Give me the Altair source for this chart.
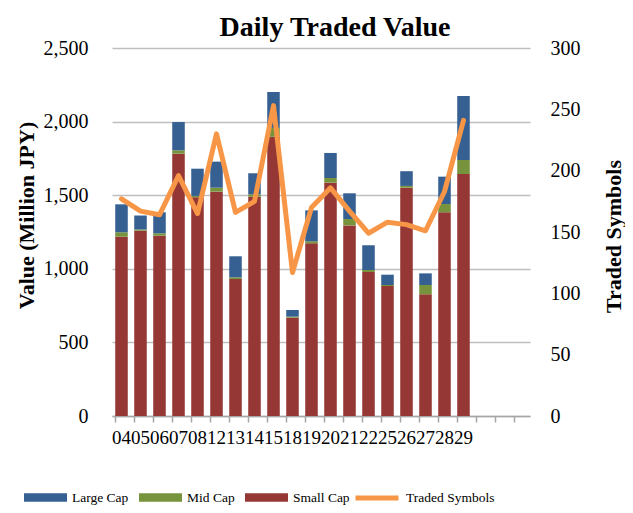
import altair as alt
import pandas as pd

# ---- data ----
dates = ["04", "05", "06", "07", "08", "12", "13", "14", "15", "18",
         "19", "20", "21", "22", "25", "26", "27", "28", "29"]
blank_slots = [" ", "  ", "   "]
small_cap = [1218, 1259, 1225, 1782, 1486, 1524, 930, 1490, 1897, 668,
             1173, 1585, 1295, 978, 883, 1551, 827, 1384, 1644]
mid_cap = [30, 8, 16, 23, 9, 27, 12, 16, 60, 7,
           14, 32, 43, 14, 7, 12, 63, 56, 95]
large_cap = [190, 95, 143, 192, 185, 177, 143, 143, 244, 45,
             210, 170, 175, 168, 70, 100, 79, 186, 435]
traded_symbols = [177, 167, 164, 196, 165, 230, 166, 175, 253, 117,
                  170, 186, 167, 149, 158, 156, 151, 183, 241]

segments = ["Large Cap", "Mid Cap", "Small Cap"]
seg_colors = ["#376092", "#77933C", "#953735"]
line_color = "#F79646"
left_ticks = [0, 500, 1000, 1500, 2000, 2500]
right_ticks = [0, 50, 100, 150, 200, 250, 300]

rows = []
for i, d in enumerate(dates):
    for seg, vals, o in (("Small Cap", small_cap, 0),
                         ("Mid Cap", mid_cap, 1),
                         ("Large Cap", large_cap, 2)):
        rows.append({"date": d, "segment": seg, "value": vals[i], "stack": o})
bars_df = pd.DataFrame(rows)
line_df = pd.DataFrame({"date": dates, "symbols": traded_symbols,
                        "series": ["Traded Symbols"] * len(dates)})

FONT = "Liberation Serif"
GRID = "#BFBFBF"
x_domain = dates + blank_slots
x_scale = alt.Scale(domain=x_domain, paddingInner=0.34, paddingOuter=0.17)

bars = alt.Chart(bars_df).mark_bar().encode(
    x=alt.X("date:N", scale=x_scale, sort=None,
            axis=alt.Axis(title=None, orient="bottom", labelAngle=0, labelFont=FONT,
                          labelFontSize=19, labelColor="black", labelPadding=12,
                          labelOverlap=False, ticks=False, domain=True,
                          domainColor="#A6A6A6", domainWidth=1.5, grid=False)),
    y=alt.Y("value:Q", stack="zero", scale=alt.Scale(domain=[0, 2500], nice=False),
            axis=alt.Axis(title="Value (Million JPY)", values=left_ticks, format=",d",
                          labelFont=FONT, labelFontSize=20, labelColor="black",
                          labelPadding=24, grid=True, gridColor=GRID, gridWidth=1.5,
                          domain=False, ticks=False,
                          titleFont=FONT, titleFontSize=22, titleFontWeight="bold",
                          titleColor="black", titleAngle=270, titleX=-79, titleY=167,
                          titleBaseline="alphabetic", titleAlign="center")),
    color=alt.Color("segment:N", scale=alt.Scale(domain=segments, range=seg_colors),
                    legend=alt.Legend(title=None, orient="none", direction="horizontal",
                                      legendX=-88, legendY=428,
                                      symbolType="M-1,-0.2H1V0.2H-1Z", symbolSize=1849,
                                      symbolStrokeWidth=0, symbolOpacity=1,
                                      labelFont=FONT, labelFontSize=13.5, labelColor="black",
                                      labelOffset=5, columnPadding=10)),
    order=alt.Order("stack:Q", sort="ascending"),
)

line = alt.Chart(line_df).mark_line(strokeWidth=5, strokeCap="round", strokeJoin="round").encode(
    x=alt.X("date:N", scale=x_scale, sort=None,
            axis=alt.Axis(title=None, orient="bottom", labels=False, domain=False,
                          ticks=True, tickSize=6, tickColor="#A6A6A6", tickWidth=1.5,
                          bandPosition=0, grid=False)),
    y=alt.Y("symbols:Q", scale=alt.Scale(domain=[0, 300], nice=False),
            axis=alt.Axis(orient="right", title="Traded Symbols", values=right_ticks,
                          labelFont=FONT, labelFontSize=20, labelColor="black",
                          labelPadding=20, grid=False, domain=False, ticks=False,
                          titleFont=FONT, titleFontSize=22, titleFontWeight="bold",
                          titleColor="black", titleAngle=270, titleX=90, titleY=188,
                          titleBaseline="alphabetic", titleAlign="center")),
    stroke=alt.Stroke("series:N", scale=alt.Scale(domain=["Traded Symbols"], range=[line_color]),
                      legend=alt.Legend(title=None, orient="none", direction="horizontal",
                                        legendX=241, legendY=426, symbolType="stroke",
                                        symbolSize=1849, symbolStrokeWidth=5,
                                        labelFont=FONT, labelFontSize=13.5, labelColor="black",
                                        labelOffset=5)),
)

chart = alt.layer(bars, line).resolve_scale(y="independent").resolve_axis(x="independent").properties(
    width=418, height=368,
    title=alt.TitleParams("Daily Traded Value", font=FONT, fontSize=28, fontWeight="bold",
                          color="black", anchor="middle", dx=14, dy=14, offset=10),
    padding={"left": 104, "top": 40, "right": 95, "bottom": 89},
    autosize=alt.AutoSizeParams(type="none"),
).configure_view(stroke=None)

chart.save("out.html", embed_options={"renderer": "svg", "actions": False})
